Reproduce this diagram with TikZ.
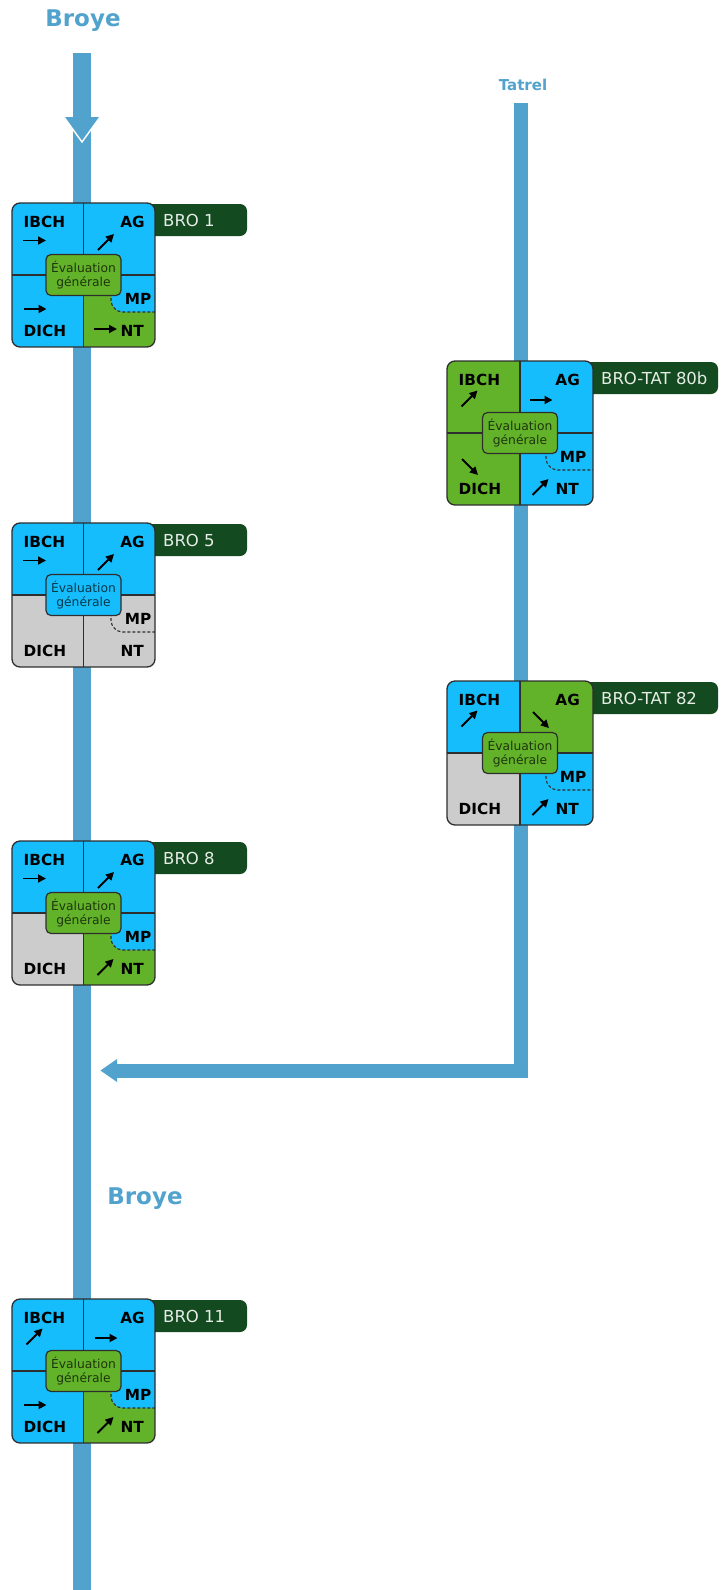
\documentclass[tikz,border=0pt]{standalone}
\usepackage{fontspec}
\setmainfont{DejaVu Sans}
\usetikzlibrary{arrows.meta}

\definecolor{riverblue}{HTML}{51A2CC}
\definecolor{qblue}{HTML}{16BDFC}
\definecolor{qgreen}{HTML}{63B32A}
\definecolor{qgray}{HTML}{CCCCCC}
\definecolor{tagfill}{HTML}{134A1F}
\definecolor{tagtext}{HTML}{E6ECE6}
\definecolor{edge}{HTML}{2E2E2E}

% settings of one station card
\pgfkeys{/station/.cd,
  ibch/.store in=\qIBCH, ag/.store in=\qAG, dich/.store in=\qDICH,
  nt/.store in=\qNT, mp/.store in=\qMP, eval/.store in=\qEV,
  aibch/.store in=\tIBCH, aag/.store in=\tAG, adich/.store in=\tDICH, ant/.store in=\tNT,
  width/.store in=\qW, tagwidth/.store in=\qTW, label/.store in=\qLabel}

% trend arrows, drawn around a centre point
\newcommand\trendE[1]{\begin{scope}[shift={(#1)}]\draw[trend] (-11.5,0) -- (11.5,0);\end{scope}}
\newcommand\trendNE[1]{\begin{scope}[shift={(#1)}]\draw[trend] (-8,8) -- (8,-8);\end{scope}}
\newcommand\trendSE[1]{\begin{scope}[shift={(#1)}]\draw[trend] (-8,-8) -- (8,8);\end{scope}}
\newcommand\trendnone[1]{}

% a station card: #1 name, #2 top-left corner, #3 settings
\newcommand\station[3]{%
  \pgfkeys{/station/.cd,#3}%
  \begin{scope}[shift={#2}]
    \fill[tagfill, rounded corners=7pt] (\qW-12,1) rectangle (\qW+\qTW,33);
    \begin{scope}
      \clip[rounded corners=8pt] (0,0) rectangle (\qW,144);
      \fill[\qIBCH] (0,0) rectangle (\qW/2,72);
      \fill[\qAG] (\qW/2,0) rectangle (\qW,72);
      \fill[\qDICH] (0,72) rectangle (\qW/2,144);
      \fill[\qNT] (\qW/2,72) rectangle (\qW,144);
      \fill[\qMP] (99,72) -- (99,97) arc[start angle=180, end angle=90, radius=12] -- (\qW,109) -- (\qW,72) -- cycle;
      \draw[mpline] (99,90) -- (99,97) arc[start angle=180, end angle=90, radius=12] -- (\qW,109);
    \end{scope}
    \draw[divider] (\qW/2,0) -- (\qW/2,144);
    \draw[divider] (0,72) -- (\qW,72);
    \draw[boxedge, rounded corners=8pt] (0,0) rectangle (\qW,144);
    \node[evalbox, fill=\qEV, text=\qEV!30!black] (#1-eval) at (\qW/2,72) {Évaluation\\générale};
    \node[quadlabel, anchor=base west] (#1-ibch) at (11.5,24) {IBCH};
    \node[quadlabel, anchor=base east] (#1-ag) at (133,24) {AG};
    \node[quadlabel, anchor=base west] (#1-dich) at (11.5,133) {DICH};
    \node[quadlabel, anchor=base east] (#1-nt) at (132,133) {NT};
    \node[quadlabel, anchor=base east] (#1-mp) at (139.5,101) {MP};
    \csname trend\tIBCH\endcsname{22.5,37.5}
    \csname trend\tAG\endcsname{94,39}
    \csname trend\tDICH\endcsname{23,106}
    \csname trend\tNT\endcsname{93.5,126}
    \node[taglabel, anchor=base west] (#1-tag) at (\qW+8,23) {\qLabel};
  \end{scope}}

\begin{document}
\begin{tikzpicture}[x=1pt, y=-1pt,
  trend/.style={draw=black, line width=1.8pt, -{Triangle[length=8pt,width=8pt]}},
  boxedge/.style={draw=edge, line width=1.3pt},
  divider/.style={draw=edge, line width=1.1pt},
  mpline/.style={draw=edge, line width=1.1pt, dash pattern=on 3pt off 2pt},
  quadlabel/.style={font=\fontsize{15.3}{18}\selectfont\bfseries, text=black, inner sep=0pt},
  taglabel/.style={font=\fontsize{16.5}{19}\selectfont, text=tagtext, inner sep=0pt},
  evalbox/.style={draw=edge, line width=1.2pt, rounded corners=5pt, minimum width=75pt,
    minimum height=41pt, inner sep=0pt, align=center, font=\fontsize{12.3}{14}\selectfont},
  riverlabel/.style={text=riverblue, inner sep=0pt, anchor=base},
  watercourse/.style={draw=riverblue, line join=miter}]

\useasboundingbox (0,0) rectangle (725,1590);

% river names
\node[riverlabel, font=\fontsize{23}{28}\selectfont\bfseries] (broyeTop) at (83,27) {Broye};
\node[riverlabel, font=\fontsize{15}{18}\selectfont\bfseries] (tatrelName) at (523,90) {Tatrel};
\node[riverlabel, font=\fontsize{23}{28}\selectfont\bfseries] (broyeLow) at (145,1204) {Broye};

% watercourses
\coordinate (broyeSource) at (82,53);
\coordinate (broyeMouth) at (82,1590);
\coordinate (tatrelSource) at (520.5,103);
\coordinate (tatrelBend) at (520.5,1070.5);
\coordinate (confluence) at (117,1070.5);
\draw[watercourse, line width=18pt] (broyeSource) -- (broyeMouth);
\draw[watercourse, line width=14pt] (tatrelSource) -- (tatrelBend) -- (confluence);

% flow-direction heads
\fill[riverblue] (64,117) -- (100,117) -- (82,142) -- cycle;
\draw[white, line width=1.4pt] (64,117) -- (82,142) -- (100,117);
\fill[riverblue] (117,1058) -- (99,1070.5) -- (117,1083) -- cycle;
\draw[white, line width=1.4pt] (117,1058) -- (99,1070.5) -- (117,1083);

% stations on the Broye
\station{bro1}{(12,203)}{width=143, tagwidth=92, label={BRO 1},
  ibch=qblue, ag=qblue, dich=qblue, nt=qgreen, mp=qblue, eval=qgreen,
  aibch=E, aag=NE, adich=E, ant=E}
\station{bro5}{(12,523)}{width=143, tagwidth=92, label={BRO 5},
  ibch=qblue, ag=qblue, dich=qgray, nt=qgray, mp=qgray, eval=qblue,
  aibch=E, aag=NE, adich=none, ant=none}
\station{bro8}{(12,841)}{width=143, tagwidth=92, label={BRO 8},
  ibch=qblue, ag=qblue, dich=qgray, nt=qgreen, mp=qblue, eval=qgreen,
  aibch=E, aag=NE, adich=none, ant=NE}
\station{bro11}{(12,1299)}{width=143, tagwidth=92, label={BRO 11},
  ibch=qblue, ag=qblue, dich=qblue, nt=qgreen, mp=qblue, eval=qgreen,
  aibch=NE, aag=E, adich=E, ant=NE}

% stations on the Tatrel
\station{tat80b}{(447,361)}{width=146, tagwidth=125, label={BRO-TAT 80b},
  ibch=qgreen, ag=qblue, dich=qgreen, nt=qblue, mp=qblue, eval=qgreen,
  aibch=NE, aag=E, adich=SE, ant=NE}
\station{tat82}{(447,681)}{width=146, tagwidth=125, label={BRO-TAT 82},
  ibch=qblue, ag=qgreen, dich=qgray, nt=qblue, mp=qblue, eval=qgreen,
  aibch=NE, aag=SE, adich=none, ant=NE}
\end{tikzpicture}
\end{document}
